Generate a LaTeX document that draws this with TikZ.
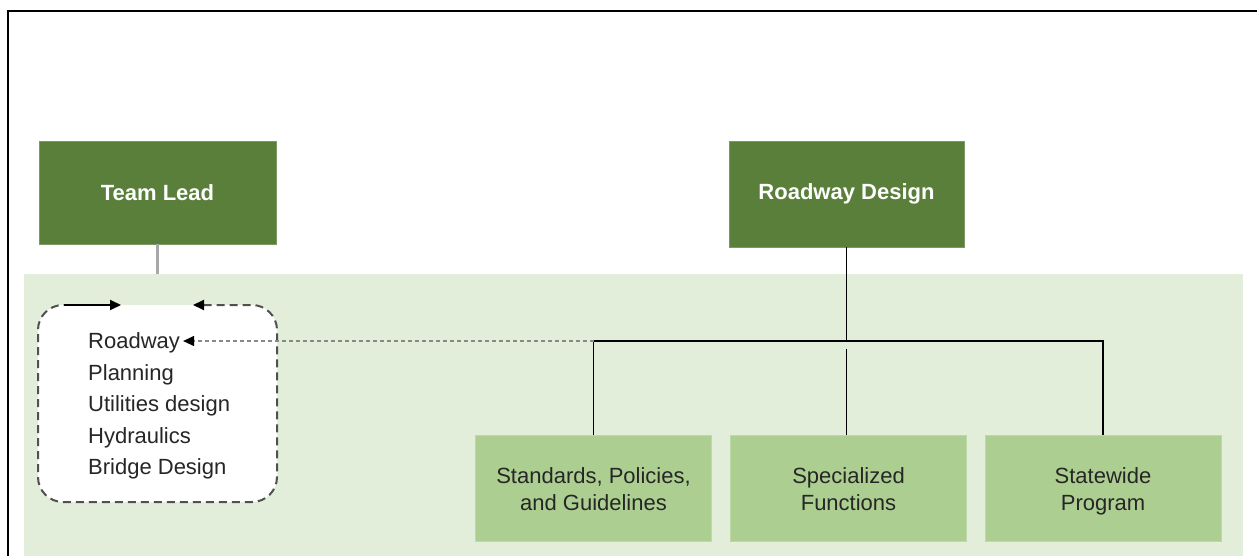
\documentclass[tikz,border=0pt]{standalone}
\usepackage{fontspec}
\setmainfont{Liberation Sans}
\usetikzlibrary{arrows.meta}
\definecolor{dkgreen}{HTML}{5A7F3A}
\definecolor{ltgreen}{HTML}{ACCF91}
\definecolor{panelgreen}{HTML}{E2EEDA}
\definecolor{txtgray}{HTML}{262626}
\definecolor{dashgray}{HTML}{505050}
\definecolor{dotgray}{HTML}{888888}
\definecolor{lightgray}{HTML}{A8A8A8}
\begin{document}
\begin{tikzpicture}[x=1pt,y=-1pt,
  topbox/.style={rectangle, fill=dkgreen, draw=dkgreen!80!white, line width=0.6pt, inner sep=0pt,
    text=white, font=\fontsize{22}{26}\selectfont\bfseries},
  subbox/.style={rectangle, fill=ltgreen, draw=ltgreen!80!white, line width=0.6pt, inner sep=0pt,
    minimum width=236pt, minimum height=106pt, align=center, text=txtgray,
    font=\fontsize{22}{26.7}\selectfont},
  subtext/.style={inner sep=0pt, align=center, text=txtgray, font=\fontsize{22}{26.7}\selectfont,
    anchor=base},
  listtext/.style={anchor=base west, inner sep=0pt, text=txtgray, font=\fontsize{22}{26}\selectfont},
  conn/.style={draw=black, line width=1.6pt},
  greyconn/.style={draw=lightgray, line width=3pt},
  boxdash/.style={draw=dashgray, line width=2pt, dash pattern=on 8pt off 5pt},
  dotline/.style={draw=dotgray, line width=1.2pt, dash pattern=on 4pt off 3pt},
  tip/.style={-{Triangle[length=11pt,width=10pt,color=black]}}
]
\useasboundingbox (0,0) rectangle (1257,556);
% panel
\fill[panelgreen] (24,274) rectangle (1243,556);
% frame
\draw[line width=2pt] (8,556) -- (8,11) -- (1257,11);

% top boxes
\node[topbox, minimum width=237pt, minimum height=103pt] (tl) at (157.5,192.5) {Team Lead};
\node[topbox, minimum width=235pt, minimum height=106pt] (rd) at (846.5,194) {Roadway Design};

% bottom boxes
\node[subbox] (sp) at (593.5,488) {};
\node[subbox] (sf) at (848.5,488) {};
\node[subbox] (sw) at (1103,488) {};
\node[subtext] (sp1) at (593.5,483.3) {Standards, Policies,};
\node[subtext] (sp2) at (593.5,510) {and Guidelines};
\node[subtext] (sf1) at (848.5,483.3) {Specialized};
\node[subtext] (sf2) at (848.5,510) {Functions};
\node[subtext] (sw1) at (1103,483.3) {Statewide};
\node[subtext] (sw2) at (1103,510) {Program};

% connectors
\coordinate (bus) at (846.5,341);
\coordinate (tlend) at (157.5,274);
\draw[greyconn] (tl.south) -- (tlend);
\draw[conn] (rd.south) -- (bus);
\draw[conn] (bus) ++(0,8) -- (rd.south |- sf.north);
\draw[conn] (sp.north) |- (bus) -| (sw.north);

% dashed list box
\node[fill=white, rounded corners=25pt, minimum width=239pt, minimum height=197pt, inner sep=0pt] (lb) at (157.5,403.5) {};
\draw[boxdash, rounded corners=25pt, {Triangle[length=11pt,width=10pt,color=black]}-] (193,305) -- (277,305) -- (277,502) -- (38,502) -- (38,305) -- (64,305);
\draw[line width=2pt, tip] (64,305) -- (121,305);

% list text
\node[listtext, inner xsep=3pt] (r1) at (85,348.3) {Roadway};
\node[listtext] (r2) at (88,380) {Planning};
\node[listtext] (r3) at (88,411.7) {Utilities design};
\node[listtext] (r4) at (88,443.5) {Hydraulics};
\node[listtext] (r5) at (88,474.3) {Bridge Design};

% dotted arrow to Roadway
\draw[dotline, tip] (sp.north |- bus) -- (r1.east |- bus);
\end{tikzpicture}
\end{document}
